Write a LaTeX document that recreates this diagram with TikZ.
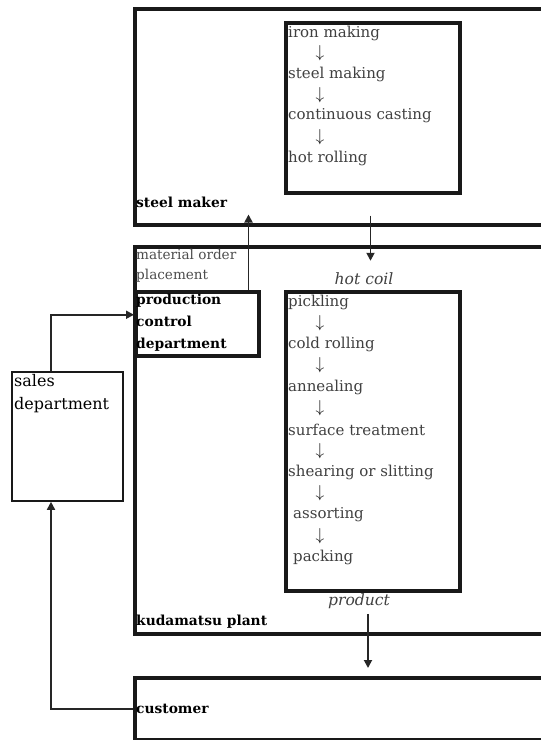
\documentclass[tikz,border=0pt]{standalone}
\usepackage{fontspec}
\setmainfont{DejaVu Serif}
\usetikzlibrary{arrows.meta}
\tikzset{
  frame/.style={draw=black!90, line width=3.5pt, anchor=north west, inner sep=0pt},
  thinframe/.style={draw=black!90, line width=1.8pt, anchor=north west, inner sep=0pt},
  step text/.style={anchor=west, inner sep=0pt, text=black!75, font=\fontsize{15}{18}\selectfont},
  down glyph/.style={anchor=center, inner sep=0pt, text=black!90, font=\fontsize{16}{18}\selectfont},
  title/.style={anchor=west, inner sep=0pt, text=black, font=\fontsize{13.8}{16}\selectfont\bfseries},
  note/.style={anchor=north west, align=left, inner sep=0pt, text=black!70, font=\fontsize{13.6}{20}\selectfont},
  flowlabel/.style={anchor=center, inner sep=0pt, text=black!75, font=\fontsize{15.6}{18}\selectfont\itshape},
  arr/.style={draw=black!85, line width=1.8pt, -{Triangle[length=8pt,width=8pt]}},
}
\newcommand{\stepdown}{\(\downarrow\)}
\begin{document}
\begin{tikzpicture}[x=1pt,y=-1pt]
\useasboundingbox (0,0) rectangle (541,740);
\begin{scope}
\clip (0,0) rectangle (541,740);
% outer organisation frames (open to the right)
\node[frame, minimum width=440pt, minimum height=216pt] (maker) at (133,7) {};
\node[frame, minimum width=440pt, minimum height=387pt] (plant) at (133,245) {};
\node[frame, minimum width=440pt, minimum height=62pt] (cust) at (133,676) {};
\end{scope}
% process boxes
\node[frame, minimum width=174pt, minimum height=170pt] (mproc) at (284,21) {};
\node[frame, minimum width=174pt, minimum height=299pt] (pproc) at (284,290) {};
\node[frame, minimum width=123pt, minimum height=64pt] (pcd) at (134,290) {};
\node[thinframe, minimum width=111pt, minimum height=129pt] (sales) at (11,371) {};

% steel maker steps
\node[step text] (s1) at (288,33) {iron making};
\node[down glyph] (d1) at (320,53) {\stepdown};
\node[step text] (s2) at (288,74) {steel making};
\node[down glyph] (d2) at (320,95) {\stepdown};
\node[step text] (s3) at (288,116) {continuous casting};
\node[down glyph] (d3) at (320,137) {\stepdown};
\node[step text] (s4) at (288,158) {hot rolling};

% plant steps
\node[step text] (p1) at (288,302) {pickling};
\node[down glyph] (e1) at (320,323) {\stepdown};
\node[step text] (p2) at (288,344) {cold rolling};
\node[down glyph] (e2) at (320,365) {\stepdown};
\node[step text] (p3) at (288,387) {annealing};
\node[down glyph] (e3) at (320,408) {\stepdown};
\node[step text] (p4) at (288,430) {surface treatment};
\node[down glyph] (e4) at (320,451) {\stepdown};
\node[step text] (p5) at (288,472) {shearing or slitting};
\node[down glyph] (e5) at (320,493) {\stepdown};
\node[step text] (p6) at (293,515) {assorting};
\node[down glyph] (e6) at (320,536) {\stepdown};
\node[step text] (p7) at (293,557) {packing};

% titles
\node[title] (tmaker) at (136,202) {steel maker};
\node[title] (tplant) at (136,622) {kudamatsu plant};
\node[title] (tcust) at (136,709) {customer};
\node[title, align=left, anchor=north west, font=\fontsize{13.8}{22}\selectfont\bfseries] (tpcd) at (136,294) {production\\control\\department};
\node[anchor=north west, inner sep=0pt, align=left, text=black, font=\fontsize{16}{23}\selectfont] (tsales) at (14,374) {sales\\department};
\node[note] (order) at (136,249) {material order\\placement};

% flow labels
\node[flowlabel] (hot) at (364,279) {hot coil};
\node[flowlabel] (prod) at (359,601) {product};

% connectors
\coordinate (upx) at (248.5,0);
\coordinate (dnx) at (370.5,0);
\coordinate (prx) at (368,0);
\coordinate (lx) at (51,0);
\draw[arr] (pcd.north -| upx) -- ([yshift=12pt]maker.south -| upx);
\draw[arr] ([yshift=11pt]maker.south -| dnx) -- ([yshift=12pt]hot.north -| dnx);
\draw[arr] ([yshift=-5pt]prod.south -| prx) -- ([yshift=8pt]cust.north -| prx);
\draw[arr] (sales.north -| lx) |- ([yshift=9pt]pcd.west);
\draw[arr] (cust.west) -| (sales.south -| lx);
\end{tikzpicture}
\end{document}
